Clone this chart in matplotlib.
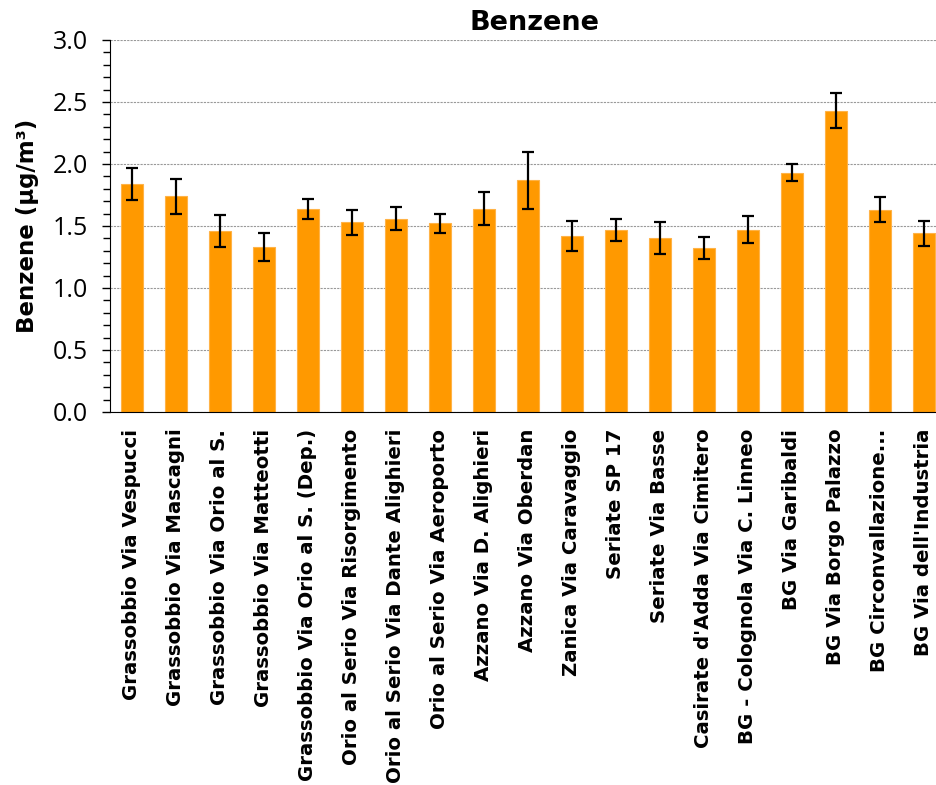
import numpy as np
import matplotlib.pyplot as plt
from matplotlib.ticker import MultipleLocator

plt.rcParams['font.family'] = ['DejaVu Sans']

# Sites and measured benzene values (ug/m3) with error bar half-widths
sites = [
    "Grassobbio Via Vespucci", "Grassobbio Via Mascagni", "Grassobbio Via Orio al S.",
    "Grassobbio Via Matteotti", "Grassobbio Via Orio al S. (Dep.)",
    "Orio al Serio Via Risorgimento", "Orio al Serio Via Dante Alighieri",
    "Orio al Serio Via Aeroporto", "Azzano Via D. Alighieri", "Azzano Via Oberdan",
    "Zanica Via Caravaggio", "Seriate SP 17", "Seriate Via Basse",
    "Casirate d'Adda Via Cimitero", "BG - Colognola Via C. Linneo", "BG Via Garibaldi",
    "BG Via Borgo Palazzo", "BG Circonvallazione...", "BG Via dell'Industria",
]
benzene = [1.84, 1.74, 1.46, 1.33, 1.64, 1.53, 1.56, 1.52, 1.64, 1.87,
           1.42, 1.47, 1.40, 1.32, 1.47, 1.93, 2.43, 1.63, 1.44]
errors = [0.13, 0.14, 0.13, 0.11, 0.08, 0.10, 0.09, 0.08, 0.13, 0.23,
          0.12, 0.09, 0.13, 0.09, 0.11, 0.07, 0.14, 0.10, 0.10]

fig = plt.figure(figsize=(9.37, 7.85), dpi=100)
# axes runs slightly past the right edge, as in the original crop
ax = fig.add_axes([0.1174, 0.4752, 0.892, 0.4739])

x = np.arange(len(sites))
ax.bar(x, benzene, width=0.5, color='#FF9900', edgecolor='#FFB347', linewidth=0.8, zorder=2)
ax.errorbar(x, benzene, yerr=errors, fmt='none', ecolor='black', elinewidth=1.6,
            capsize=4, capthick=1.6, zorder=3)

ax.set_xlim(-0.5, len(sites) - 0.5)
ax.set_ylim(0, 3.0)
ax.yaxis.set_major_locator(MultipleLocator(0.5))
ax.yaxis.set_minor_locator(MultipleLocator(0.1))
ax.set_yticks(np.arange(0, 3.01, 0.5))
ax.set_yticklabels([f"{v:.1f}" for v in np.arange(0, 3.01, 0.5)],
                   fontsize=18, family=['Open Sans', 'DejaVu Sans'])
ax.tick_params(axis='y', which='major', length=6, width=1, direction='out', pad=10)
ax.tick_params(axis='y', which='minor', length=5, width=1, direction='out')
ax.grid(axis='y', which='major', linestyle=(0, (2, 1)), color='#999999', linewidth=0.8, zorder=0)

ax.set_xticks(x)
ax.set_xticklabels(sites, rotation=90, fontsize=14.2, fontweight='bold')
ax.tick_params(axis='x', length=0, pad=12)

ax.spines['top'].set_visible(False)
ax.spines['right'].set_visible(False)

ax.set_ylabel("Benzene (µg/m³)", fontsize=16.5, fontweight='bold', labelpad=10)
ax.set_title("Benzene", fontsize=19.5, fontweight='bold', pad=7, x=0.508)

plt.savefig("out.png", dpi=100)
